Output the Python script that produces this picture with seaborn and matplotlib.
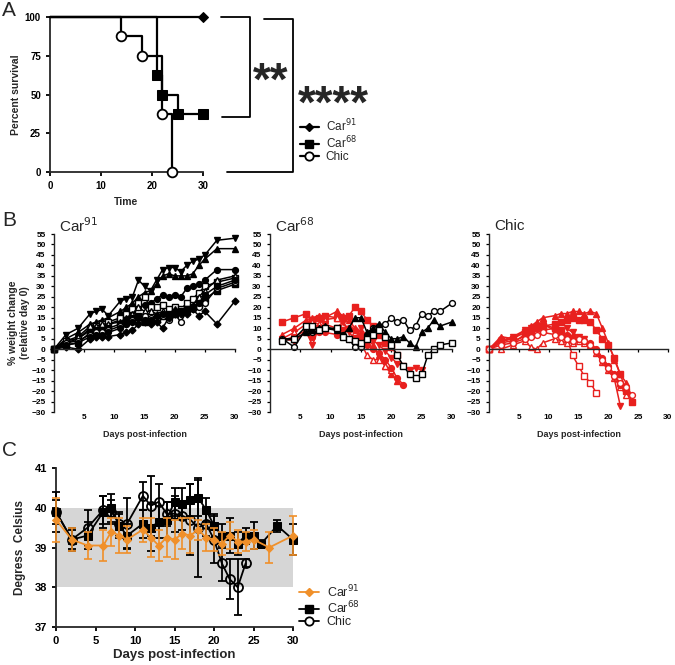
import numpy as np
import pandas as pd
import seaborn as sns
import matplotlib.pyplot as plt
from matplotlib.lines import Line2D

sns.set_style("ticks")
plt.rcParams['font.family'] = ['Liberation Sans', 'DejaVu Sans']

W, H = 675, 665

# ---- Panel A: survival ----
surv_days_91 = [0, 30]
surv_91 = [100, 100]
surv_days_68 = [0, 21, 22, 25, 30]
surv_68 = [100, 62.5, 50, 37.5, 37.5]
surv_days_chic = [0, 14, 18, 22, 24]
surv_chic = [100, 87.5, 75, 37.5, 0]

# ---- Panel B: weight change per mouse (key = marker_fill) ----
days_91 = [0, 2, 4, 6, 7, 8, 9, 11, 12, 13, 14, 15, 16, 17, 18, 19, 20, 21, 22, 23, 24, 25, 27, 30]
w91 = {
    'v_f': [0, 7, 10, 17, 18, 19, 16, 23, 24, 25, 33, 30, 28, 33, 38, 39, 39, 37, 40, 42, 43, 45, 52, 53],
    '^_f': [0, 5, 8, 12, 13, 14, 15, 18, 20, 22, 25, 27, 28, 31, 35, 36, 35, 35, 35, 36, 40, 43, 48, 48],
    'o_f': [0, 3, 5, 9, 10, 11, 12, 14, 16, 18, 20, 21, 22, 24, 26, 25, 26, 25, 29, 30, 31, 33, 38, 38],
    's_o': [0, 4, 5, 10, 11, 12, 13, 15, 17, 19, 22, 25, 20, 20, 21, 19, 20, 19, 22, 24, 27, 30, 32, 34],
    '^_o': [0, 4, 6, 11, 11, 12, 12, 13, 15, 17, 20, 18, 18, 17, 18, 17, 19, 18, 19, 21, 25, 28, 33, 35],
    's_f': [0, 2, 3, 8, 9, 9, 10, 12, 14, 15, 16, 13, 14, 15, 16, 17, 17, 18, 19, 20, 21, 24, 28, 31],
    'o_o': [0, 3, 4, 7, 8, 8, 9, 11, 12, 14, 14, 16, 15, 15, 16, 14, 17, 13, 18, 19, 20, 22, 29, 32],
    'D_f': [0, 1, 0, 5, 6, 6, 6, 7, 8, 9, 12, 13, 12, 13, 10, 15, 17, 17, 17, 19, 16, 18, 12, 23],
    'o_f2': [0, 2, 3, 6, 7, 7, 8, 10, 12, 13, 15, 14, 14, 16, 17, 16, 18, 18, 18, 20, 22, 26, 30, 33],
}

days_68 = [2, 4, 6, 7, 8, 9, 11, 12, 13, 14, 15, 16, 17, 18, 19, 20, 21, 22, 23, 24, 25, 26, 27, 28, 30]
w68_red = {
    's_f': [13, 15, 17, 14, 15, 16, 15, 15, 16, 20, 18, 14, 11, 7, 3, 1, -3],
    '^_f': [7, 10, 14, 15, 16, 15, 18, 16, 14, 10, 8, 5, 2, -3, -8, -12, -15],
    '^_o': [5, 8, 12, 13, 12, 14, 15, 12, 10, 8, 3, -3, -5, -5, -8, -10],
    'o_f': [4, 6, 9, 6, 8, 8, 7, 9, 10, 9, 6, 2, 0, -2, -5, -9, -14, -17],
    'v_f': [5, 4, 8, 2, 10, 12, 10, 13, 8, 5, 10, 6, 4, 2, -1, -4, -7, -8, -10, -9, -10],
}
w68_black = {
    'o_o': [5, 1, 10, 8, 9, 10, 9, 7, 5, 1, 1, 7, 10, 11, 12, 15, 13, 14, 9, 11, 17, 16, 18, 18, 22],
    '^_f': [5, 5, 8, 9, 10, 11, 9, 7, 10, 15, 15, 8, 10, 12, 8, 5, 5, 6, 3, 1, 8, 10, 14, 11, 13],
    's_o': [4, 5, 11, 11, 9, 10, 10, 6, 5, 4, 3, 5, 7, 9, 6, 2, -3, -8, -12, -14, -12, -3, 0, 2, 3],
}

days_chic = [0, 2, 4, 6, 7, 8, 9, 11, 12, 13, 14, 15, 16, 17, 18, 19, 20, 21, 22, 23, 24]
wchic = {
    '^_f': [0, 6, 5, 9, 11, 13, 15, 16, 17, 17, 18, 18, 17, 18, 17, 10, 3, -5, -12, -16],
    's_o': [0, 3, 4, 6, 7, 8, 9, 10, 8, 6, -3, -8, -13, -16, -21],
    's_f': [0, 4, 5, 8, 9, 10, 11, 12, 13, 14, 15, 14, 14, 13, 9, 5, 2, -4, -12, -20, -25],
    '^_o': [0, 0, 2, 4, 1, 0, 3, 5, 4, 3, 3, 4, 3, 2, -2, -6, -10, -14, -18, -22],
    'o_f': [0, 5, 3, 7, 8, 10, 12, 9, 8, 7, 6, 5, 4, 3, 0, -4, -8, -12, -17, -20],
    'v_f': [0, 4, 6, 9, 10, 11, 12, 10, 9, 10, 8, 6, 5, 2, -2, -6, -10, -14, -27],
    'o_o': [0, 2, 3, 5, 6, 7, 8, 7, 6, 5, 4, 5, 4, 2, -1, -5, -9, -13, -16, -18, -22],
}

# ---- Panel C: body temperature mean and error ----
temp_days_91 = [0, 2, 4, 6, 7, 8, 9, 11, 12, 13, 14, 15, 16, 17, 18, 19, 20, 21, 22, 23, 24, 25, 27, 30]
temp_91 = [39.7, 39.2, 39.05, 39.05, 39.4, 39.3, 39.2, 39.45, 39.25, 39.05, 39.25, 39.2, 39.35, 39.3,
           39.45, 39.25, 39.2, 39.1, 39.3, 39.15, 39.15, 39.2, 39.0, 39.3]
err_91 = [0.55, 0.3, 0.35, 0.4, 0.35, 0.45, 0.35, 0.3, 0.5, 0.4, 0.5, 0.5, 0.4, 0.45, 0.25, 0.35,
          0.3, 0.3, 0.35, 0.3, 0.25, 0.25, 0.4, 0.5]
temp_days_68 = [0, 2, 4, 6, 7, 8, 9, 11, 12, 13, 14, 15, 16, 17, 18, 19, 20, 21, 22, 23, 24, 25, 26, 28, 30]
temp_68 = [39.9, 39.2, 39.3, 39.9, 40.0, 39.55, 39.3, 39.6, 39.5, 39.65, 39.7, 40.15, 40.1, 40.2, 40.25,
           39.95, 39.55, 39.3, 39.3, 39.1, 39.3, 39.3, 39.1, 39.55, 39.2]
err_68 = [0.5, 0.3, 0.35, 0.4, 0.35, 0.3, 0.3, 0.35, 0.6, 0.4, 0.45, 0.35, 0.4, 0.4, 0.45, 0.3, 0.3, 0.3,
          0.45, 0.3, 0.2, 0.35, 0.1, 0.15, 0.4]
temp_days_chic = [0, 2, 4, 6, 7, 8, 9, 11, 12, 13, 14, 15, 16, 17, 18, 19, 20, 21, 22, 23, 24]
temp_chic = [39.9, 39.2, 39.5, 39.95, 39.9, 39.6, 39.6, 40.3, 40.05, 40.15, 39.85, 39.85, 39.8, 39.7,
             39.5, 39.6, 39.2, 38.6, 38.2, 38.0, 38.6]
err_chic = [0.3, 0.25, 0.45, 0.35, 0.3, 0.3, 0.65, 0.35, 0.75, 0.45, 0.3, 0.45, 0.35, 0.9, 1.25, 0.3,
            0.6, 0.45, 0.5, 0.7, 0.1]

ORANGE = '#f0902a'
RED = '#e8201e'

fig = plt.figure(figsize=(W / 100, H / 100), dpi=100)


def ax_at(l, t, r, b):
    return fig.add_axes([l / W, 1 - b / H, (r - l) / W, (b - t) / H])


def fig_line(xs, ys, **kw):
    fig.add_artist(Line2D(np.array(xs) / W, 1 - np.array(ys) / H, transform=fig.transFigure,
                          color='black', lw=1.3, **kw))


def style_axes(ax, lw=1.2):
    sns.despine(ax=ax)
    for s in ['left', 'bottom']:
        ax.spines[s].set_linewidth(lw)
    ax.tick_params(width=lw, length=3, colors='black')


# ================= A =================
axA = ax_at(50, 17, 203, 172)
sns.lineplot(x=surv_days_91, y=surv_91, ax=axA, color='black', lw=1.6, marker='D', ms=5,
             mec='black', markevery=[1], drawstyle='steps-post', clip_on=False, zorder=3)
sns.lineplot(x=surv_days_68, y=surv_68, ax=axA, color='black', lw=1.6, marker='s', ms=6.5,
             mec='black', markevery=[1, 2, 3, 4], drawstyle='steps-post', clip_on=False, zorder=3)
sns.lineplot(x=surv_days_chic, y=surv_chic, ax=axA, color='black', lw=1.6, marker='o', ms=7,
             mfc='white', mec='black', mew=1.3, markevery=[1, 2, 3, 4], drawstyle='steps-post',
             clip_on=False, zorder=4)
axA.set_xlim(0, 30)
axA.set_ylim(0, 100)
axA.set_xticks([0, 10, 20, 30])
axA.set_yticks([0, 25, 50, 75, 100])
axA.tick_params(labelsize=7)
for t in axA.get_xticklabels() + axA.get_yticklabels():
    t.set_fontweight('bold')
axA.set_xlabel('Time', fontsize=7.5, fontweight='bold', labelpad=4)
axA.set_ylabel('Percent survival', fontsize=7.5, fontweight='bold', labelpad=3)
style_axes(axA, 1.3)

# significance brackets
fig_line([221, 250, 250, 222], [17, 17, 117, 117])
fig_line([264, 293, 293, 227], [19, 19, 172, 172])
fig.text(271 / W, 1 - 95 / H, '**', fontsize=33, fontweight='bold', ha='center', va='baseline')
fig.text(333 / W, 1 - 118 / H, '****', fontsize=33, fontweight='bold', ha='center', va='baseline')

handlesA = [
    Line2D([], [], color='black', lw=1.6, marker='D', ms=4.5),
    Line2D([], [], color='black', lw=1.6, marker='s', ms=6),
    Line2D([], [], color='black', lw=1.6, marker='o', ms=6, mfc='white', mew=1.3),
]
fig.legend(handlesA, ['Car$^{91}$', 'Car$^{68}$', 'Chic'], loc='upper left',
           bbox_to_anchor=(294 / W, 1 - 112 / H), frameon=False, fontsize=8.5,
           handlelength=1.6, handletextpad=0.6, labelspacing=0.0, borderpad=0)


# ================= B =================
def weight_axes(l, r, title):
    ax = ax_at(l, 234, r, 412)
    ax.set_xlim(0, 30)
    ax.set_ylim(-30, 55)
    ax.set_yticks(np.arange(-30, 56, 5))
    ax.set_xticks([5, 10, 15, 20, 25, 30])
    ax.spines['bottom'].set_position(('data', 0))
    style_axes(ax, 1.0)
    ax.tick_params(labelsize=6, length=2.5, width=0.9)
    ax.tick_params(axis='x', pad=44)
    for t in ax.get_xticklabels() + ax.get_yticklabels():
        t.set_fontweight('bold')
    ax.set_xlabel('Days post-infection', fontsize=6.5, fontweight='bold')
    ax.xaxis.set_label_coords(0.5, -0.1)
    ax.text(0.03, 1.045, title, transform=ax.transAxes, fontsize=11, va='center')
    return ax


def draw_mice(ax, days, mice, color):
    for key, vals in mice.items():
        mk, fill = key.split('_')
        mfc = color if fill.startswith('f') else 'white'
        ms = 4.2 if mk != 'D' else 3.5
        sns.lineplot(x=days[:len(vals)], y=vals, ax=ax, color=color, lw=1.1, marker=mk, ms=ms,
                     mfc=mfc, mec=color, mew=1.0, sort=False, estimator=None, clip_on=False)


axB1 = weight_axes(54, 235, 'Car$^{91}$')
draw_mice(axB1, days_91, w91, 'black')
axB1.set_ylabel('% weight change\n(relative day 0)', fontsize=7.5, fontweight='bold', labelpad=1)

axB2 = weight_axes(270, 452, 'Car$^{68}$')
draw_mice(axB2, days_68, w68_red, RED)
draw_mice(axB2, days_68, w68_black, 'black')

axB3 = weight_axes(489, 668, 'Chic')
draw_mice(axB3, days_chic, wchic, RED)

# ================= C =================
axC = ax_at(56, 468, 293, 627)
axC.axhspan(38, 40, xmin=0, xmax=1, color='#d6d6d6', lw=0, zorder=0)
sns.lineplot(x=temp_days_68, y=temp_68, ax=axC, color='black', lw=1.3, marker='s', ms=5.5,
             mec='black', sort=False, estimator=None, clip_on=False, zorder=3)
axC.errorbar(temp_days_68, temp_68, yerr=err_68, fmt='none', ecolor='black', elinewidth=1.3,
             capsize=3, capthick=1.3, zorder=3, clip_on=False)
sns.lineplot(x=temp_days_chic, y=temp_chic, ax=axC, color='black', lw=1.3, marker='o', ms=6.5,
             mfc='none', mec='black', mew=1.3, sort=False, estimator=None, clip_on=False, zorder=4)
axC.errorbar(temp_days_chic, temp_chic, yerr=err_chic, fmt='none', ecolor='black', elinewidth=1.3,
             capsize=3, capthick=1.3, zorder=4, clip_on=False)
sns.lineplot(x=temp_days_91, y=temp_91, ax=axC, color=ORANGE, lw=1.3, marker='D', ms=4,
             mec=ORANGE, sort=False, estimator=None, clip_on=False, zorder=5)
axC.errorbar(temp_days_91, temp_91, yerr=err_91, fmt='none', ecolor=ORANGE, elinewidth=1.2,
             capsize=3, capthick=1.2, zorder=5, clip_on=False)
axC.set_xlim(0, 30)
axC.set_ylim(37, 41)
axC.set_xticks([0, 5, 10, 15, 20, 25, 30])
axC.set_yticks([37, 38, 39, 40, 41])
style_axes(axC, 1.3)
axC.tick_params(labelsize=8)
for t in axC.get_xticklabels() + axC.get_yticklabels():
    t.set_fontweight('bold')
axC.set_xlabel('Days post-infection', fontsize=9.5, fontweight='bold', labelpad=2)
axC.set_ylabel('Degress  Celsius', fontsize=8.5, fontweight='bold', labelpad=6)

handlesC = [
    Line2D([], [], color=ORANGE, lw=1.3, marker='D', ms=4),
    Line2D([], [], color='black', lw=1.3, marker='s', ms=5.5),
    Line2D([], [], color='black', lw=1.3, marker='o', ms=6, mfc='white', mew=1.3),
]
fig.legend(handlesC, ['Car$^{91}$', 'Car$^{68}$', 'Chic'], loc='upper left',
           bbox_to_anchor=(293 / W, 1 - 577 / H), frameon=False, fontsize=9,
           handlelength=1.6, handletextpad=0.6, labelspacing=0.0, borderpad=0)

# panel letters
fig.text(2 / W, 1 - 11 / H, 'A', fontsize=15, va='center')
fig.text(2 / W, 1 - 220 / H, 'B', fontsize=15, va='center')
fig.text(2 / W, 1 - 451 / H, 'C', fontsize=15, va='center')

fig.savefig('out.png', dpi=100)
